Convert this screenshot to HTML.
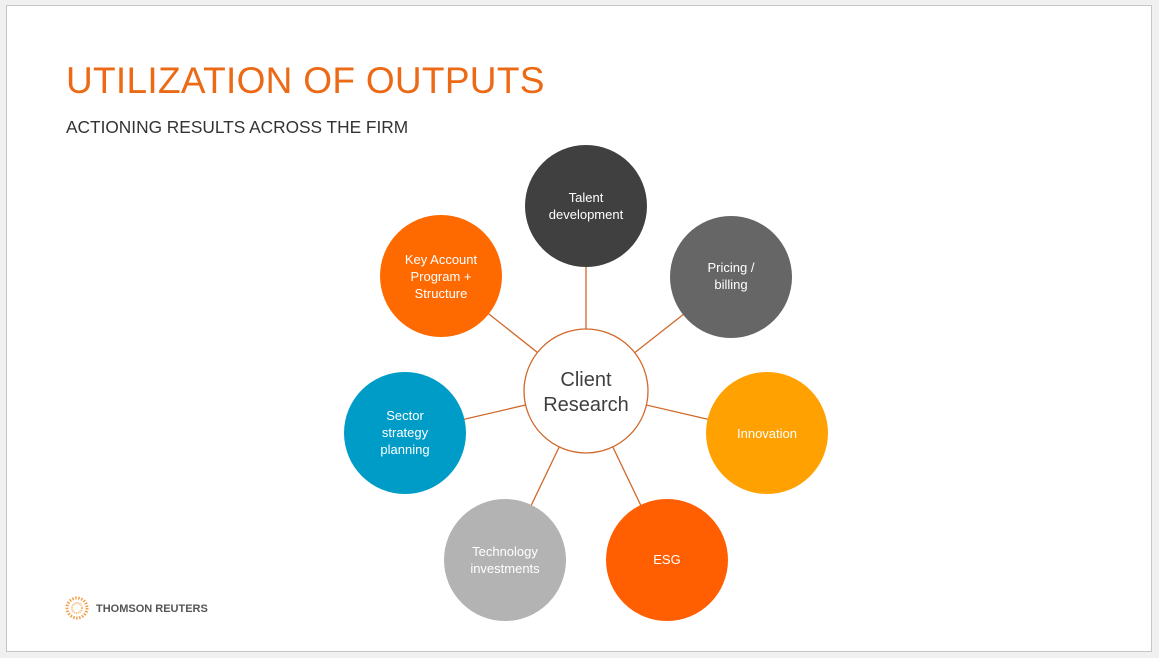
<!DOCTYPE html>
<html><head><style>
body{margin:0;width:1159px;height:658px;background:#f0f0f0;position:relative;overflow:hidden;font-family:"Liberation Sans",sans-serif}
.slide{position:absolute;left:6px;top:5px;width:1146px;height:647px;background:#fff;border:1px solid #c6c6c6;box-sizing:border-box}
.t{position:absolute;left:66px;top:60px;font-size:37px;color:#ec6a16;letter-spacing:0.3px}
.s{position:absolute;left:66px;top:117px;font-size:17.3px;color:#333}
</style></head><body>
<div class="slide"></div>
<div class="t">UTILIZATION OF OUTPUTS</div>
<div class="s">ACTIONING RESULTS ACROSS THE FIRM</div>
<svg width="1159" height="658" style="position:absolute;left:0;top:0" font-family="Liberation Sans, sans-serif">
<g stroke="#d0692a" stroke-width="1.3">
<line x1="586" y1="391" x2="586" y2="206"/><line x1="586" y1="391" x2="731" y2="277"/>
<line x1="586" y1="391" x2="767" y2="433"/><line x1="586" y1="391" x2="667" y2="560"/>
<line x1="586" y1="391" x2="505" y2="560"/><line x1="586" y1="391" x2="405" y2="433"/>
<line x1="586" y1="391" x2="441" y2="276"/>
</g>
<circle cx="586" cy="391" r="62" fill="#fff" stroke="#d0692a" stroke-width="1.3"/>
<text x="586" y="386" text-anchor="middle" font-size="20" fill="#404040">Client</text>
<text x="586" y="411" text-anchor="middle" font-size="20" fill="#404040">Research</text>
<g font-size="13" fill="#fff" text-anchor="middle">
<circle cx="586" cy="206" r="61" fill="#404040"/><text x="586" y="202">Talent</text><text x="586" y="219">development</text>
<circle cx="731" cy="277" r="61" fill="#666"/><text x="731" y="272">Pricing /</text><text x="731" y="289">billing</text>
<circle cx="767" cy="433" r="61" fill="#ffa100"/><text x="767" y="438">Innovation</text>
<circle cx="667" cy="560" r="61" fill="#ff5f00"/><text x="667" y="564">ESG</text>
<circle cx="505" cy="560" r="61" fill="#b3b3b3"/><text x="505" y="556">Technology</text><text x="505" y="573">investments</text>
<circle cx="405" cy="433" r="61" fill="#009cc8"/><text x="405" y="420">Sector</text><text x="405" y="437">strategy</text><text x="405" y="454">planning</text>
<circle cx="441" cy="276" r="61" fill="#ff6a00"/><text x="441" y="264">Key Account</text><text x="441" y="281">Program +</text><text x="441" y="298">Structure</text>
</g>
<circle cx="77" cy="608" r="10" fill="none" stroke="#f4a04a" stroke-width="3" stroke-dasharray="1.5 1.5"/>
<circle cx="77" cy="608" r="5" fill="none" stroke="#f6b36a" stroke-width="2" stroke-dasharray="1 1"/>
<text x="96" y="612" font-size="11" font-weight="bold" fill="#555">THOMSON REUTERS</text>
</svg>
</body></html>
